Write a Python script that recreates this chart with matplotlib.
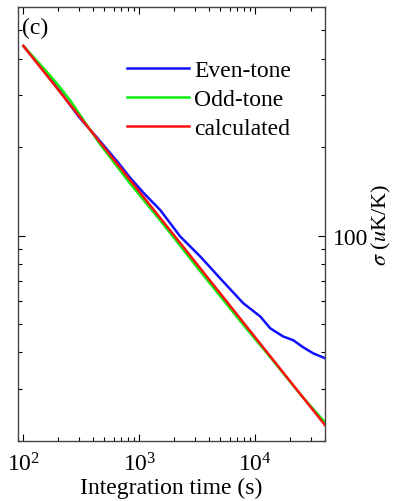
import matplotlib
matplotlib.use("Agg")
import matplotlib.pyplot as plt
from matplotlib.ticker import LogLocator, NullFormatter, FuncFormatter

plt.rcParams['font.family'] = ['Liberation Serif', 'DejaVu Serif']
plt.rcParams['mathtext.fontset'] = 'stix'

# integration time (s) and sigma (uK/K)
even_t = [100, 150, 208, 300, 461, 650, 836, 1100, 1517, 2254, 3357, 4990, 7880, 11050, 13470, 17420, 21270, 25950, 31620, 40000]
even_sigma = [442, 364, 309, 254, 209, 178, 157, 139, 122, 99.2, 84.8, 71.4, 58.8, 53.0, 48.3, 45.3, 44.0, 41.6, 39.7, 38.2]

odd_t = [100, 140, 189, 254, 342, 461, 836, 1517, 3357, 7430, 13470, 24440, 40000]
odd_sigma = [442, 382, 334, 288, 242, 204, 150, 112.5, 75.5, 51.1, 38.5, 28.8, 23.1]

calc_t = [100, 40000]
calc_sigma = [442, 22.6]

fig = plt.figure(figsize=(3.94, 5.02), dpi=100)
ax = fig.add_axes([0.046, 0.12, 0.779, 0.864])

ax.plot(even_t, even_sigma, color='#1010ff', lw=1.8, label='Even-tone')
ax.plot(odd_t, odd_sigma, color='#10ee10', lw=1.8, label='Odd-tone')
ax.plot(calc_t, calc_sigma, color='#ff1010', lw=1.8, label='calculated')

ax.set_xscale('log')
ax.set_yscale('log')
ax.set_xlim(90, 40000)
ax.set_ylim(20, 600)

ax.xaxis.set_major_locator(LogLocator(base=10))
ax.xaxis.set_minor_locator(LogLocator(base=10, subs=range(2, 10)))
ax.xaxis.set_minor_formatter(NullFormatter())
ax.yaxis.set_major_locator(LogLocator(base=10))
ax.yaxis.set_minor_locator(LogLocator(base=10, subs=range(2, 10)))
ax.yaxis.set_major_formatter(FuncFormatter(lambda v, p: '%d' % v))
ax.yaxis.set_minor_formatter(NullFormatter())

ax.tick_params(which='both', direction='in', top=True, right=True, left=True,
               labelleft=False, labelright=True, labelsize=17, width=0.8)
ax.tick_params(which='major', length=5, pad=6)
ax.tick_params(axis='x', which='major', pad=8)
ax.tick_params(which='minor', length=3)
ax.yaxis.set_label_position('right')

for s in ax.spines.values():
    s.set_linewidth(1.0)
    s.set_color('#444444')

ax.set_xlabel('Integration time (s)', fontsize=17, labelpad=1)
ax.set_ylabel(r'$\sigma$ ($u$K/K)', fontsize=16, labelpad=1)

ax.text(0.012, 0.978, '(c)', transform=ax.transAxes, fontsize=17, va='top', ha='left')

ax.legend(loc='upper right', bbox_to_anchor=(0.89, 0.878), frameon=False, fontsize=17,
          handlelength=2.6, handletextpad=0.25, labelspacing=0.31,
          borderpad=0, borderaxespad=0)

fig.savefig('out.png', dpi=100)
